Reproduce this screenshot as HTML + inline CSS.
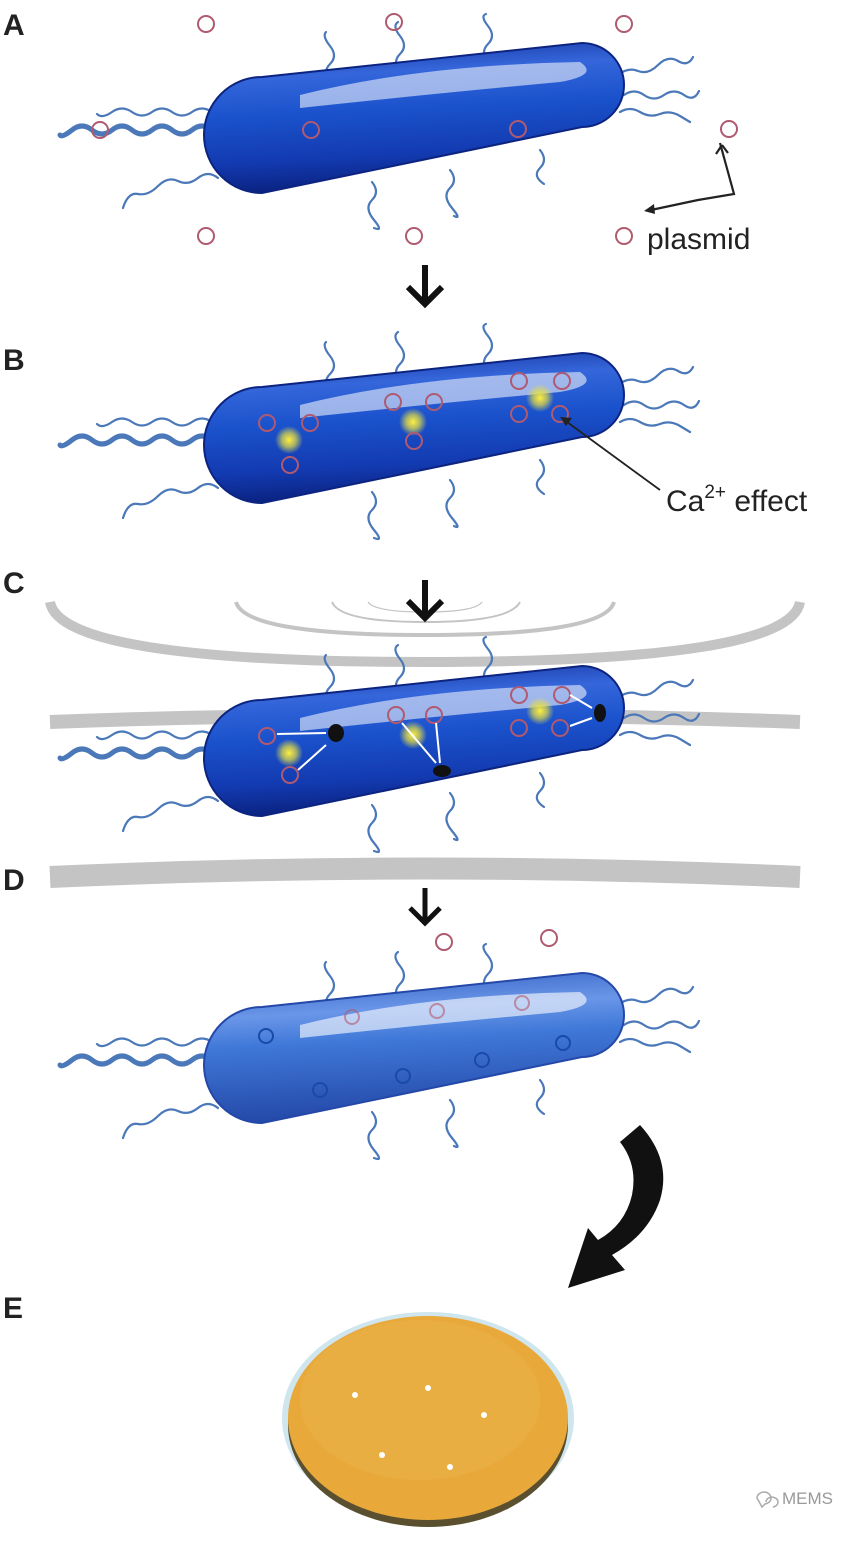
<!DOCTYPE html>
<html><head><style>html,body{margin:0;padding:0;background:#fff}svg{display:block}</style></head><body>
<svg width="867" height="1544" viewBox="0 0 867 1544" xmlns="http://www.w3.org/2000/svg" font-family="Liberation Sans, sans-serif">
<defs>
<linearGradient id="bg" x1="0" y1="0" x2="0.15" y2="1">
<stop offset="0" stop-color="#13309a"/><stop offset="0.25" stop-color="#3566da"/><stop offset="0.5" stop-color="#1a52cc"/><stop offset="0.8" stop-color="#133ab0"/><stop offset="1" stop-color="#0a2280"/></linearGradient>
<linearGradient id="bgl" x1="0" y1="0" x2="0.15" y2="1">
<stop offset="0" stop-color="#2f5cc0"/><stop offset="0.3" stop-color="#6a96e8"/><stop offset="0.5" stop-color="#3f78d8"/><stop offset="1" stop-color="#2448a8"/></linearGradient>
<radialGradient id="glow"><stop offset="0" stop-color="#fff040"/><stop offset="0.5" stop-color="#e8e040" stop-opacity="0.7"/><stop offset="1" stop-color="#e8e040" stop-opacity="0"/></radialGradient>
<g id="flag" fill="none" stroke="#4a78b8" stroke-width="2.2" stroke-linecap="round">
<path d="M212,130 q-10,-8 -20,0 t-20,0 t-20,0 t-20,0 t-20,0 t-20,0 t-20,0 t-12,5" stroke-width="5"/>
<path d="M212,112 q-10,-7 -20,0 t-20,0 t-20,0 t-20,0 t-20,0 t-15,2"/>
<path d="M218,178 q-10,-8 -20,0 t-20,3 t-20,5 t-20,8 t-15,14"/>
<path d="M618,75 q10,-8 20,-4 t20,-6 t20,-4 t15,-4"/>
<path d="M624,95 q10,-7 20,0 t20,0 t20,0 t15,-4"/>
<path d="M620,112 q10,-6 20,0 t20,2 t20,2 t10,6"/>
<path d="M330,82 q-8,-10 0,-18 t0,-18 t-4,-14"/>
<path d="M400,72 q-8,-10 0,-18 t0,-18 t-2,-14"/>
<path d="M488,62 q-8,-10 0,-18 t0,-18 t-2,-12"/>
<path d="M372,182 q8,10 0,18 t2,20 t0,8"/>
<path d="M450,170 q8,10 0,18 t2,20 t2,8"/>
<path d="M540,150 q8,10 0,18 t4,16"/>
</g>
<path id="body" d="M262,77 L582,43 A42,42 0 0 1 582,127 L262,193 A58,58 0 0 1 262,77 Z"/>
</defs>

<g font-weight="bold" font-size="30" fill="#222">
<text x="3" y="35">A</text><text x="3" y="370">B</text><text x="3" y="593">C</text><text x="3" y="890">D</text><text x="3" y="1318">E</text></g>

<!-- Panel A -->
<use href="#flag"/>
<use href="#body" fill="url(#bg)" stroke="#0c2480" stroke-width="2"/>
<path d="M300,95 Q420,65 580,62 Q600,75 560,82 Q420,95 300,108 Z" fill="#fff" opacity="0.55"/>
<g fill="none" stroke="#b05a70" stroke-width="2">
<circle cx="206" cy="24" r="8"/><circle cx="394" cy="22" r="8"/><circle cx="624" cy="24" r="8"/>
<circle cx="100" cy="130" r="8"/><circle cx="311" cy="130" r="8"/><circle cx="518" cy="129" r="8"/><circle cx="729" cy="129" r="8"/>
<circle cx="206" cy="236" r="8"/><circle cx="414" cy="236" r="8"/><circle cx="624" cy="236" r="8"/></g>
<path d="M720,143 L734,194 L698,200 L651,210" fill="none" stroke="#222" stroke-width="2.2"/>
<path d="M722,145 l-6,9 M722,145 l6,8" stroke="#222" stroke-width="2.2"/>
<path d="M644,211 l10,-7 l1,10 z" fill="#222"/>
<text x="647" y="249" font-size="30" fill="#222">plasmid</text>
<path d="M425,265 v38 M408,287 l17,17 l17,-17" fill="none" stroke="#111" stroke-width="6"/>

<!-- Panel B -->
<g transform="translate(0,310)">
<use href="#flag"/>
<use href="#body" fill="url(#bg)" stroke="#0c2480" stroke-width="2"/>
<path d="M300,95 Q420,65 580,62 Q600,75 560,82 Q420,95 300,108 Z" fill="#fff" opacity="0.55"/>
<circle cx="289" cy="130" r="14" fill="url(#glow)"/><circle cx="413" cy="112" r="14" fill="url(#glow)"/><circle cx="540" cy="88" r="14" fill="url(#glow)"/>
<g fill="none" stroke="#b05a70" stroke-width="2">
<circle cx="267" cy="113" r="8"/><circle cx="310" cy="113" r="8"/><circle cx="290" cy="155" r="8"/>
<circle cx="393" cy="92" r="8"/><circle cx="434" cy="92" r="8"/><circle cx="414" cy="131" r="8"/>
<circle cx="519" cy="71" r="8"/><circle cx="562" cy="71" r="8"/><circle cx="519" cy="104" r="8"/><circle cx="560" cy="104" r="8"/></g>
<path d="M660,180 L567,112" stroke="#222" stroke-width="1.8"/><path d="M560,107 l12,1 l-6,8 z" fill="#222"/>
<text x="666" y="201" font-size="30" fill="#222">Ca<tspan font-size="19" dy="-13">2+</tspan><tspan dy="13"> effect</tspan></text>
</g>

<!-- Panel C -->
<g fill="none" stroke="#c4c4c4">
<path d="M50,602 Q60,662 425,662 Q790,662 800,602" stroke-width="10"/>
<path d="M236,602 Q245,635 425,635 Q605,635 614,602" stroke-width="4"/>
<path d="M332,602 Q340,622 425,622 Q510,622 520,602" stroke-width="2"/>
<path d="M368,602 Q375,612 425,612 Q475,612 482,602" stroke-width="1.2"/>
<path d="M50,722 Q425,708 800,722" stroke-width="14"/>
<path d="M50,877 Q425,860 800,877" stroke-width="22"/>
</g>
<path d="M425,580 v38 M408,601 l17,17 l17,-17" fill="none" stroke="#111" stroke-width="6"/>
<g transform="translate(0,623)">
<use href="#flag"/>
<use href="#body" fill="url(#bg)" stroke="#0c2480" stroke-width="2"/>
<path d="M300,95 Q420,65 580,62 Q600,75 560,82 Q420,95 300,108 Z" fill="#fff" opacity="0.55"/>
<circle cx="289" cy="130" r="14" fill="url(#glow)"/><circle cx="413" cy="112" r="14" fill="url(#glow)"/><circle cx="540" cy="88" r="14" fill="url(#glow)"/>
<g fill="none" stroke="#b05a70" stroke-width="2">
<circle cx="267" cy="113" r="8"/><circle cx="290" cy="152" r="8"/>
<circle cx="396" cy="92" r="8"/><circle cx="434" cy="92" r="8"/>
<circle cx="519" cy="72" r="8"/><circle cx="562" cy="72" r="8"/><circle cx="519" cy="105" r="8"/><circle cx="560" cy="105" r="8"/></g>
<ellipse cx="336" cy="110" rx="8" ry="9" fill="#111"/><ellipse cx="442" cy="148" rx="9" ry="6" fill="#111"/><ellipse cx="600" cy="90" rx="6" ry="9" fill="#111"/>
<g stroke="#fff" stroke-width="2" fill="#fff">
<path d="M277,111 L326,110"/><path d="M298,147 L326,122"/>
<path d="M402,100 L436,140"/><path d="M436,100 L440,140"/>
<path d="M570,72 L592,85"/><path d="M570,103 L592,95"/></g>
</g>

<!-- Panel D -->
<path d="M425,888 v34 M410,908 l15,15 l15,-15" fill="none" stroke="#111" stroke-width="5"/>
<g transform="translate(0,930)">
<use href="#flag"/>
<use href="#body" fill="url(#bgl)" stroke="#2448a8" stroke-width="2"/>
<path d="M300,95 Q420,65 580,62 Q600,75 560,82 Q420,95 300,108 Z" fill="#fff" opacity="0.6"/>
<g fill="none" stroke="#b05a70" stroke-width="2">
<circle cx="444" cy="12" r="8"/><circle cx="549" cy="8" r="8"/>
<circle cx="352" cy="87" r="7" opacity="0.6"/><circle cx="437" cy="81" r="7" opacity="0.6"/><circle cx="522" cy="73" r="7" opacity="0.6"/></g>
<g fill="none" stroke="#1a4aa8" stroke-width="2">
<circle cx="266" cy="106" r="7"/><circle cx="320" cy="160" r="7"/><circle cx="403" cy="146" r="7"/><circle cx="482" cy="130" r="7"/><circle cx="563" cy="113" r="7"/></g>
</g>

<!-- Curved arrow -->
<path d="M620,1142 L640,1125 Q672,1160 660,1200 Q648,1235 612,1255 L625,1270 L568,1288 L588,1228 L598,1240 Q625,1225 632,1195 Q638,1165 620,1142 Z" fill="#111"/>

<!-- Panel E dish -->
<ellipse cx="428" cy="1418" rx="146" ry="106" fill="#cfe6ee"/>
<ellipse cx="428" cy="1425" rx="140" ry="102" fill="#5a5030"/>
<ellipse cx="428" cy="1418" rx="140" ry="102" fill="#e8a83a"/>
<ellipse cx="420" cy="1400" rx="120" ry="80" fill="#eab248" opacity="0.6"/>
<g fill="#fff"><circle cx="355" cy="1395" r="3"/><circle cx="428" cy="1388" r="3"/><circle cx="484" cy="1415" r="3"/><circle cx="382" cy="1455" r="3"/><circle cx="450" cy="1467" r="3"/></g>
<text x="782" y="1504" font-size="17" fill="#999">MEMS</text>
<path d="M757,1498 a7,6 0 1 1 8,6 l-3,3 z M766,1502 a6,5 0 1 1 7,5" fill="none" stroke="#aaa" stroke-width="1.5"/>
</svg>
</body></html>
